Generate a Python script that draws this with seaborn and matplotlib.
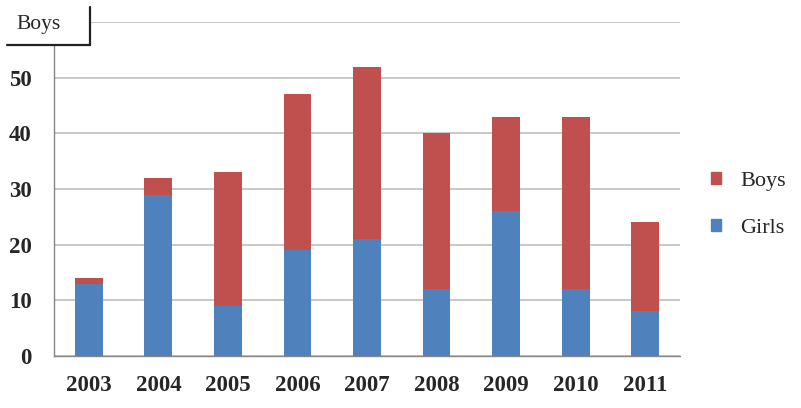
import matplotlib
matplotlib.use("Agg")
import matplotlib.pyplot as plt
import matplotlib.patches as mpatches
import seaborn as sns
import pandas as pd

# Data
years = ["2003", "2004", "2005", "2006", "2007", "2008", "2009", "2010", "2011"]
girls = [13, 29, 9, 19, 21, 12, 26, 12, 8]
boys = [1, 3, 24, 28, 31, 28, 17, 31, 16]

blue = "#4F81BD"
red = "#C0504D"

sns.set_style("white")
plt.rcParams["font.family"] = ["Liberation Serif", "DejaVu Serif"]

df = pd.DataFrame({"year": years, "girls": girls, "boys": boys})
df["total"] = df["girls"] + df["boys"]

fig = plt.figure(figsize=(8.01, 4.08), dpi=100)
ax = fig.add_axes([54 / 801, 52 / 408, 626 / 801, 334 / 408])

# Stacked bars: total in red, girls on top of it in blue
sns.barplot(data=df, x="year", y="total", color=red, saturation=1, width=0.4,
            linewidth=0, ax=ax)
sns.barplot(data=df, x="year", y="girls", color=blue, saturation=1, width=0.4,
            linewidth=0, ax=ax)

ax.set_ylim(0, 60)
ax.set_xlim(-0.5, len(years) - 0.5)
ax.set_yticks(range(0, 60, 10))
ax.yaxis.grid(True, color="#BFBFBF", linewidth=1.2)
ax.axhline(60, color="#BFBFBF", linewidth=1.2, zorder=0)
ax.set_axisbelow(True)
ax.set_xlabel("")
ax.set_ylabel("")

for s in ["top", "right"]:
    ax.spines[s].set_visible(False)
for s in ["left", "bottom"]:
    ax.spines[s].set_color("#868686")
    ax.spines[s].set_linewidth(1)

# tick marks between categories, labels at centres
ax.set_xticks([i - 0.5 for i in range(len(years) + 1)], minor=True)
ax.tick_params(axis="x", which="minor", length=6, color="#868686", width=1, direction="out")
ax.tick_params(axis="x", which="major", length=0, pad=14)
ax.tick_params(axis="y", length=0, pad=16)
for lab in ax.get_xticklabels() + ax.get_yticklabels():
    lab.set_fontsize(16.5)
    lab.set_fontweight("bold")

# legend on the right
handles = [mpatches.Patch(color=red, label="Boys"), mpatches.Patch(color=blue, label="Girls")]
fig.legend(handles=handles, loc="upper left", bbox_to_anchor=(691 / 801, 1 - 152 / 408),
           frameon=False, fontsize=16, handlelength=0.45, handleheight=0.45,
           labelspacing=1.25, handletextpad=0.85)

# title box in top-left corner
fig.add_artist(mpatches.Rectangle((7 / 801, 1 - 45 / 408), 83 / 801, 38 / 408,
                                  transform=fig.transFigure, facecolor="white",
                                  edgecolor="none", zorder=5))
fig.text(16 / 801, 1 - 24 / 408, "Boys", fontsize=15.5, va="center", ha="left", zorder=6)
fig.add_artist(plt.Line2D([90 / 801, 90 / 801], [1 - 7 / 408, 1 - 45 / 408],
                          transform=fig.transFigure, color="#222222", linewidth=1.6, zorder=6))
fig.add_artist(plt.Line2D([7 / 801, 90 / 801], [1 - 45 / 408, 1 - 45 / 408],
                          transform=fig.transFigure, color="#222222", linewidth=1.6, zorder=6))

fig.savefig("out.png", dpi=100)
